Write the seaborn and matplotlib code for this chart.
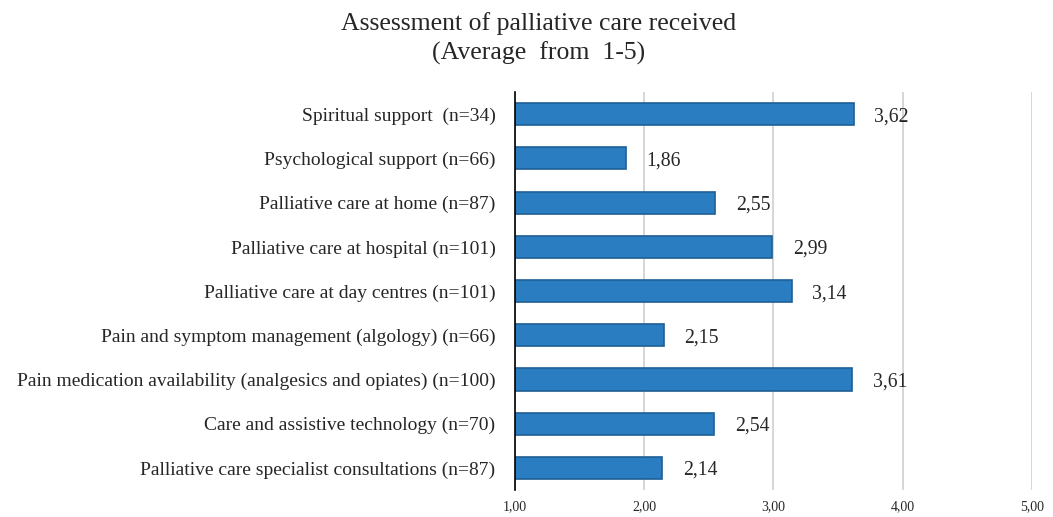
import matplotlib
matplotlib.use('Agg')
import matplotlib.pyplot as plt
import seaborn as sns
import pandas as pd

categorias = [
    "Spiritual support  (n=34)",
    "Psychological support (n=66)",
    "Palliative care at home (n=87)",
    "Palliative care at hospital (n=101)",
    "Palliative care at day centres (n=101)",
    "Pain and symptom management (algology) (n=66)",
    "Pain medication availability (analgesics and opiates) (n=100)",
    "Care and assistive technology (n=70)",
    "Palliative care specialist consultations (n=87)",
]
valores = [3.62, 1.86, 2.55, 2.99, 3.14, 2.15, 3.61, 2.54, 2.14]
ticks_x = [1, 2, 3, 4, 5]

df = pd.DataFrame({"categoria": categorias, "valor": valores})

sns.set_style("white")
plt.rcParams['font.family'] = ['Liberation Serif', 'DejaVu Serif']

fig = plt.figure(figsize=(10.53, 5.17), dpi=100)
ax = fig.add_axes([0.489, 0.052, 0.491, 0.77])

sns.barplot(data=df, x="valor", y="categoria", orient="h", color="#2A7DC1",
            edgecolor="#1F5F96", linewidth=1.2, width=0.5, saturation=1, ax=ax)

ax.set_xlim(1, 5)
ax.set_xticks(ticks_x)
ax.set_xticklabels([f"{t:.2f}".replace(".", ",") for t in ticks_x], fontsize=10)
ax.tick_params(axis='x', length=0, pad=7)
ax.tick_params(axis='y', length=0, pad=14, labelsize=14)
ax.set_xlabel("")
ax.set_ylabel("")
ax.xaxis.grid(True, color="#d0d0d0", linewidth=1.2)
ax.set_axisbelow(True)
for s in ["top", "right", "bottom"]:
    ax.spines[s].set_visible(False)
ax.spines["left"].set_color("black")
ax.spines["left"].set_linewidth(1.2)

# etiquetas de valor
for i, v in enumerate(valores):
    ax.text(v + 0.16, i, f"{v:.2f}".replace(".", ","), va="center_baseline",
            ha="left", fontsize=14.2)

fig.text(0.511, 0.955, "Assessment of palliative care received", ha="center",
         va="center", fontsize=18.5)
fig.text(0.511, 0.897, "(Average  from  1-5)", ha="center", va="center",
         fontsize=18.5)

fig.savefig("out.png", dpi=100)
